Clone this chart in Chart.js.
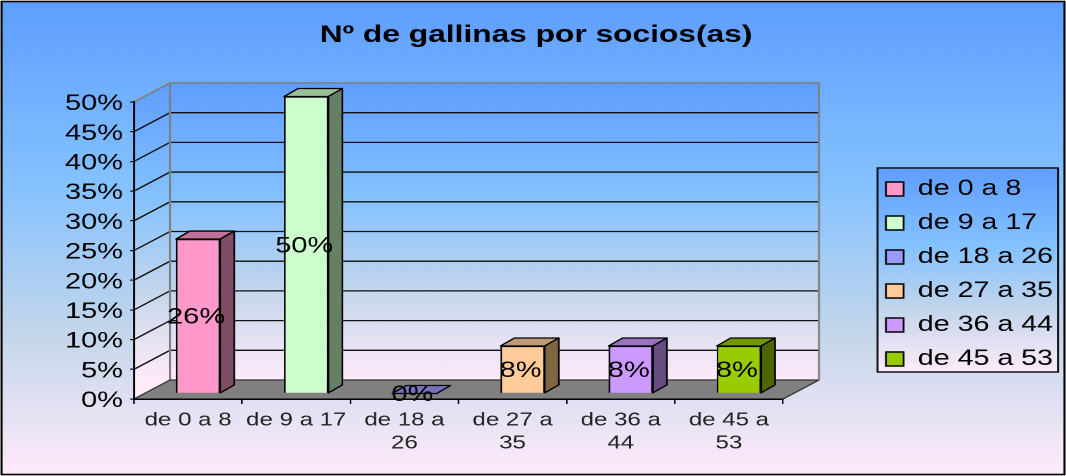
<!DOCTYPE html>
<html><head><meta charset="utf-8">
<style>html,body{margin:0;padding:0;background:#fff;overflow:hidden;width:1066px;height:476px}
#w{width:820px;height:476px;transform-origin:0 0;transform:scaleX(1.3)}</style>
<script src="https://cdn.jsdelivr.net/npm/chart.js@4"></script>
</head><body><div id="w"><canvas id="c" width="820" height="476"></canvas></div>
<script>
const titleText = 'Nº de gallinas por socios(as)';
const categories = ['de 0 a 8','de 9 a 17','de 18 a 26','de 27 a 35','de 36 a 44','de 45 a 53'];
const tickLabels = [['de 0 a 8'],['de 9 a 17'],['de 18 a','26'],['de 27 a','35'],['de 36 a','44'],['de 45 a','53']];
const values = [26,50,0,8,8,8];
const frontColors = ['#FF99CC','#CCFFCC','#9999FF','#FFCC99','#CC99FF','#99CC00'];
const topColors   = ['#BF7399','#99BF99','#7373BF','#BF9973','#9973BF','#739900'];
const sideColors  = ['#804D66','#668066','#4D4D80','#806640','#664D80','#4D6600'];
const gradStops = [[0,'#5E9EFF'],[0.39,'#85C2FF'],[0.7,'#C4D6EB'],[1,'#FFEBFA']];

const S = 1.3, CW = 820, X = p => p/S;
function grad(ctx,y0,y1){const g=ctx.createLinearGradient(0,y0,0,y1);gradStops.forEach(s=>g.addColorStop(s[0],s[1]));return g;}
function poly(ctx,pts,fill,stroke,lw){ctx.beginPath();pts.forEach((p,i)=>i?ctx.lineTo(p[0],p[1]):ctx.moveTo(p[0],p[1]));ctx.closePath();
  if(fill){ctx.fillStyle=fill;ctx.fill();} if(stroke){ctx.strokeStyle=stroke;ctx.lineWidth=lw;ctx.stroke();}}
const wallDX=X(36), wallDY=-19, barDX=X(10), barDY=-5.5, depDX=X(14), depDY=-8;

const scene = {
  id:'scene',
  beforeLayout(chart){
    const lg=chart.legend;
    if(lg && !lg._fixed){const f=lg.fit;lg.fit=function(){f.call(this);this.width=CW-X(783);};lg._fixed=true;}
  },
  afterLayout(chart){
    const lg=chart.legend, pad=lg.options.labels.padding;
    lg.left=X(886)-pad; lg.right=lg.left+200; lg.top=178-pad; lg.bottom=lg.top+250;
    chart.titleBlock.left+=X(3); chart.titleBlock.right+=X(3);
  },
  beforeDraw(chart){
    const c=chart.ctx,a=chart.chartArea,y=chart.scales.y;
    c.save();
    c.fillStyle='#fff';c.fillRect(0,0,chart.width,chart.height);
    c.fillStyle=grad(c,1,475);c.fillRect(X(1),1,X(1063),474);
    const l=a.left,r=a.right,t=a.top,b=a.bottom;
    const wg=grad(c,t+wallDY,b+wallDY);
    poly(c,[[l+wallDX,t+wallDY],[r+wallDX,t+wallDY],[r+wallDX,b+wallDY],[l+wallDX,b+wallDY]],wg);
    poly(c,[[l,t],[l+wallDX,t+wallDY],[l+wallDX,b+wallDY],[l,b]],wg);
    poly(c,[[l,b],[l+wallDX,b+wallDY],[r+wallDX,b+wallDY],[r,b]],'#808080');
    c.strokeStyle='#111';c.lineWidth=1.3;
    y.ticks.forEach(tk=>{
      const py=y.getPixelForValue(tk.value);
      if(tk.value===0||tk.value===50) return;
      c.beginPath();c.moveTo(l,py);c.lineTo(l+wallDX,py+wallDY);c.lineTo(r+wallDX,py+wallDY);c.stroke();
    });
    c.strokeStyle='#808080';c.lineWidth=1.6;
    c.beginPath();c.moveTo(l,t);c.lineTo(l+wallDX,t+wallDY);c.lineTo(r+wallDX,t+wallDY);c.lineTo(r+wallDX,b+wallDY);
    c.moveTo(l+wallDX,t+wallDY);c.lineTo(l+wallDX,b+wallDY);c.stroke();
    c.strokeStyle='#333';c.lineWidth=1.2;
    c.beginPath();c.moveTo(l,b);c.lineTo(l+wallDX,b+wallDY);c.lineTo(r+wallDX,b+wallDY);c.moveTo(r,b);c.lineTo(r+wallDX,b+wallDY);c.stroke();
    // legend panel
    const lx=X(877.5),ly=168,lw=X(180.5),lh=204;
    c.fillStyle=grad(c,ly,ly+lh);c.fillRect(lx,ly,lw,lh);
    c.strokeStyle='#111';c.lineWidth=1.5;c.strokeRect(lx,ly,lw,lh);
    // outer frame
    c.strokeStyle='#000';c.lineWidth=1.6;c.strokeRect(X(1.5),1.5,X(1063),473);
    c.restore();
  },
  beforeDatasetsDraw(chart){
    const c=chart.ctx;
    c.save();c.translate(barDX,barDY);
    c.lineJoin='round';
    chart.getDatasetMeta(0).data.forEach((el,i)=>{
      const x0=el.x-el.width/2,x1=el.x+el.width/2,yt=el.y,yb=el.base;
      poly(c,[[x0,yt],[x0+depDX,yt+depDY],[x1+depDX,yt+depDY],[x1,yt]],topColors[i],'#000',1.3);
      if(yb>yt) poly(c,[[x1,yt],[x1+depDX,yt+depDY],[x1+depDX,yb+depDY],[x1,yb]],sideColors[i],'#000',1.3);
    });
  },
  afterDatasetsDraw(chart){
    const c=chart.ctx;
    c.textAlign='center';c.textBaseline='middle';c.fillStyle='#000';c.font='22.3px "Liberation Sans"';
    chart.getDatasetMeta(0).data.forEach((el,i)=>{
      c.fillText(values[i]+'%',el.x-X(2),(el.y+el.base)/2+1.5);
    });
    c.restore();
  }
};

new Chart(document.getElementById('c'),{
  type:'bar',
  data:{labels:tickLabels,datasets:[{data:values,backgroundColor:frontColors,borderColor:'#000',borderWidth:1.3,
    barPercentage:0.41,categoryPercentage:1,clip:false}]},
  plugins:[scene],
  options:{
    responsive:false,animation:false,devicePixelRatio:2,
    layout:{autoPadding:false,padding:0},
    events:[],
    plugins:{
      tooltip:{enabled:false},
      title:{display:true,text:titleText,color:'#000',font:{family:'"Liberation Sans"',size:24.4,weight:'bold'},padding:{top:20.4,bottom:52.3}},
      legend:{display:true,position:'right',align:'start',
        labels:{boxWidth:13.5,boxHeight:14,padding:12,color:'#000',font:{family:'"Liberation Sans"',size:22},
          generateLabels:()=>categories.map((t,i)=>({text:t,fillStyle:frontColors[i],strokeStyle:'#000',lineWidth:1.4,index:i,hidden:false}))}}
    },
    scales:{
      x:{afterFit(s){s.height=77;},
        grid:{display:true,drawOnChartArea:false,drawTicks:true,tickLength:5,color:'#111',lineWidth:1.2},
        border:{display:true,color:'#000',width:1.5},
        ticks:{color:'#222',autoSkip:false,maxRotation:0,padding:5,font:{family:'"Liberation Sans"',size:18.5,lineHeight:1.243}}},
      y:{min:0,max:50,afterFit(s){s.width=X(134);},
        grid:{display:true,drawOnChartArea:false,drawTicks:true,tickLength:3,color:'#111',lineWidth:1.2},
        border:{display:true,color:'#000',width:1.5},
        ticks:{stepSize:5,autoSkip:false,color:'#000',padding:5.5,labelOffset:2,callback:v=>v+'%',font:{family:'"Liberation Sans"',size:22.3}}}
    }
  }
});
</script></body></html>
